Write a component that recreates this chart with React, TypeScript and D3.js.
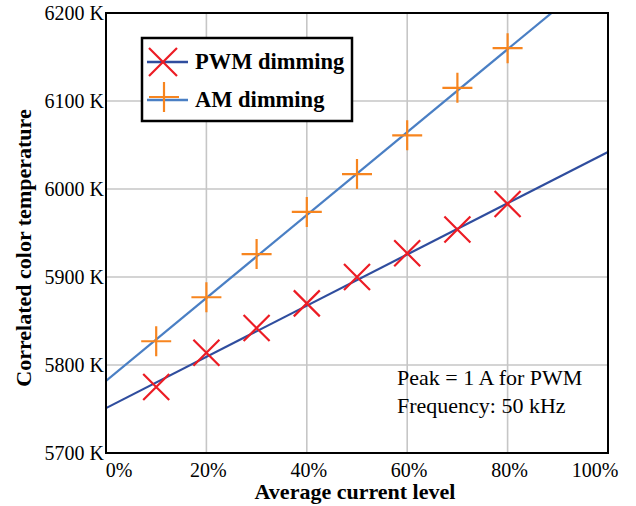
import React, { useEffect, useRef } from "react";
import * as d3 from "d3";

const levels = [10, 20, 30, 40, 50, 60, 70, 80];
const pwmValues = [5775, 5814, 5842, 5870, 5900, 5927, 5954, 5983];
const amValues = [5827, 5877, 5926, 5974, 6017, 6061, 6115, 6160];
const trendX = [0, 100];
const pwmTrend = [5751, 6042];
const amTrend = [5782, 6253];
const xTicks = [0, 20, 40, 60, 80, 100];
const yTicks = [5700, 5800, 5900, 6000, 6100, 6200];
const legendLabels = ["PWM dimming", "AM dimming"];
const noteLines = ["Peak = 1 A for PWM", "Frequency: 50 kHz"];

const W = 636;
const H = 506;
const FONT = "'Liberation Serif', 'Times New Roman', serif";
const PWM_LINE = "#2f4d9e";
const AM_LINE = "#4a7fc4";
const RED = "#ec1c24";
const ORANGE = "#f7851f";

export default function App() {
  const ref = useRef<SVGSVGElement>(null);

  useEffect(() => {
    const svg = d3.select(ref.current);
    svg.selectAll("*").remove();

    const x = d3.scaleLinear().domain([0, 100]).range([106, 608]);
    const y = d3.scaleLinear().domain([5700, 6200]).range([453, 13]);
    const [x0, x1] = x.range();
    const [y0, y1] = y.range();

    svg.append("rect").attr("width", W).attr("height", H).attr("fill", "#fff");

    svg
      .append("defs")
      .append("clipPath")
      .attr("id", "plotclip")
      .append("rect")
      .attr("x", x0)
      .attr("y", y1)
      .attr("width", x1 - x0)
      .attr("height", y0 - y1);

    // grid
    const grid = svg.append("g").attr("stroke", "#c6c6c6").attr("stroke-width", 1.6);
    xTicks.slice(1, -1).forEach((t) => {
      grid.append("line").attr("x1", x(t)).attr("x2", x(t)).attr("y1", y0).attr("y2", y1);
    });
    yTicks.slice(1, -1).forEach((t) => {
      grid.append("line").attr("y1", y(t)).attr("y2", y(t)).attr("x1", x0).attr("x2", x1);
    });

    // trend lines
    const line = d3
      .line<number>()
      .x((_, i) => x(trendX[i]))
      .y((d) => y(d));
    const plot = svg.append("g").attr("clip-path", "url(#plotclip)");
    plot
      .append("path")
      .attr("d", line(pwmTrend))
      .attr("fill", "none")
      .attr("stroke", PWM_LINE)
      .attr("stroke-width", 2.2);
    plot
      .append("path")
      .attr("d", line(amTrend))
      .attr("fill", "none")
      .attr("stroke", AM_LINE)
      .attr("stroke-width", 2.2);

    const drawX = (g: any, cx: number, cy: number, r: number) => {
      g.append("path")
        .attr("d", `M${cx - r},${cy - r}L${cx + r},${cy + r}M${cx - r},${cy + r}L${cx + r},${cy - r}`)
        .attr("stroke", RED)
        .attr("stroke-width", 2.2)
        .attr("fill", "none");
    };
    const drawPlus = (g: any, cx: number, cy: number, r: number) => {
      g.append("path")
        .attr("d", `M${cx - r},${cy}L${cx + r},${cy}M${cx},${cy - r}L${cx},${cy + r}`)
        .attr("stroke", ORANGE)
        .attr("stroke-width", 2.2)
        .attr("fill", "none");
    };

    levels.forEach((lv, i) => {
      drawX(svg, x(lv), y(pwmValues[i]), 13);
      drawPlus(svg, x(lv), y(amValues[i]), 15);
    });

    // frame
    svg
      .append("rect")
      .attr("x", x0)
      .attr("y", y1)
      .attr("width", x1 - x0)
      .attr("height", y0 - y1)
      .attr("fill", "none")
      .attr("stroke", "#000")
      .attr("stroke-width", 2);

    // y tick labels
    yTicks.forEach((t) => {
      svg
        .append("text")
        .attr("x", x0 - 2)
        .attr("y", y(t))
        .attr("dy", "0.35em")
        .attr("text-anchor", "end")
        .attr("font-family", FONT)
        .attr("font-size", 20)
        .attr("fill", "#000")
        .text(`${t} K`);
    });

    // x tick labels
    xTicks.forEach((t, i) => {
      const dx = i === 0 ? 13 : i === xTicks.length - 1 ? -13 : 2;
      svg
        .append("text")
        .attr("x", x(t) + dx)
        .attr("y", 477)
        .attr("text-anchor", "middle")
        .attr("font-family", FONT)
        .attr("font-size", 20)
        .attr("fill", "#000")
        .text(`${t}%`);
    });

    // axis titles
    svg
      .append("text")
      .attr("x", 355)
      .attr("y", 499)
      .attr("text-anchor", "middle")
      .attr("font-family", FONT)
      .attr("font-weight", "bold")
      .attr("font-size", 22)
      .text("Average current level");
    svg
      .append("text")
      .attr("transform", `translate(31,${248}) rotate(-90)`)
      .attr("text-anchor", "middle")
      .attr("font-family", FONT)
      .attr("font-weight", "bold")
      .attr("font-size", 22)
      .text("Correlated color temperature");

    // legend
    const lg = svg.append("g");
    lg.append("rect")
      .attr("x", 142)
      .attr("y", 38)
      .attr("width", 210)
      .attr("height", 83)
      .attr("fill", "#fff")
      .attr("stroke", "#000")
      .attr("stroke-width", 2.5);
    const legendY = [62, 100];
    legendLabels.forEach((lab, i) => {
      const ly = legendY[i];
      lg.append("line")
        .attr("x1", 147)
        .attr("x2", 188)
        .attr("y1", ly)
        .attr("y2", ly)
        .attr("stroke", i === 0 ? PWM_LINE : AM_LINE)
        .attr("stroke-width", 2.5);
      if (i === 0) drawX(lg, 163, ly, 14);
      else drawPlus(lg, 164, ly - 3, 15);
      lg.append("text")
        .attr("x", 195)
        .attr("y", ly + 7)
        .attr("font-family", FONT)
        .attr("font-weight", "bold")
        .attr("font-size", 22.5)
        .text(lab);
    });

    // annotation
    noteLines.forEach((t, i) => {
      svg
        .append("text")
        .attr("x", 397)
        .attr("y", 385 + i * 28)
        .attr("font-family", FONT)
        .attr("font-size", 22)
        .text(t);
    });
  }, []);

  return (
    <svg
      ref={ref}
      width={W}
      height={H}
      style={{ position: "absolute", left: 0, top: 0 }}
    />
  );
}
